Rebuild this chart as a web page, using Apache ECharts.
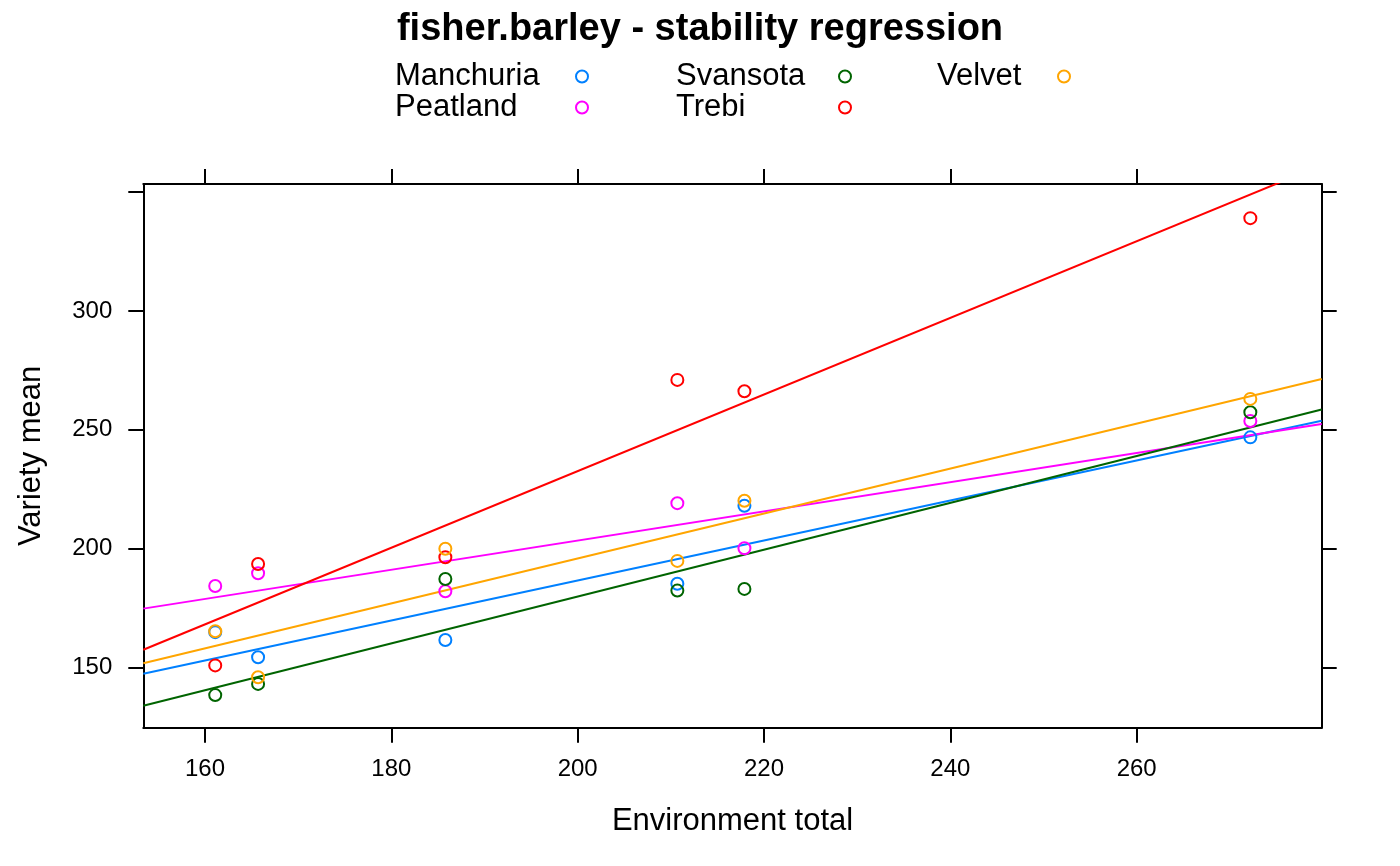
<!DOCTYPE html>
<html>
<head>
<meta charset="utf-8">
<title>fisher.barley - stability regression</title>
<script src="https://cdn.jsdelivr.net/npm/echarts@6/dist/echarts.min.js"></script>
<style>
  html, body { margin: 0; padding: 0; background: #fff; }
  #chart { width: 1400px; height: 866px; }
</style>
</head>
<body>
<div id="chart"></div>
<script>
var chart = echarts.init(document.getElementById('chart'));

// environment totals (x) shared by every variety
var envTotals = [161.1, 165.7, 185.8, 210.7, 217.9, 272.2];

var varieties = ['Manchuria', 'Peatland', 'Svansota', 'Trebi', 'Velvet'];
var colors = ['#0080ff', '#ff00ff', '#006400', '#ff0000', '#ffa500'];

// variety means, one per environment
var manchuria = [164.8, 154.2, 161.5, 185.2, 218.0, 246.8];
var peatland  = [184.2, 189.6, 182.0, 219.1, 200.1, 253.7];
var svansota  = [138.3, 143.0, 187.2, 182.3, 183.0, 257.4];
var trebi     = [150.8, 193.5, 196.3, 271.0, 266.2, 339.1];
var velvet    = [165.2, 145.8, 199.9, 194.8, 220.1, 263.0];

// regression lines, read at the left and right edge of the panel
var fitX          = [153.38, 279.86];
var manchuriaFit  = [147.3, 253.8];
var peatlandFit   = [174.7, 252.4];
var svansotaFit   = [133.8, 258.5];
var trebiFit      = [157.4, 361.4];
var velvetFit     = [151.7, 271.4];

// axes
var xRange = [153.38, 279.86];
var yRange = [124.57, 353.47];
var xTicks = [160, 180, 200, 220, 240, 260];
var yTicks = [150, 200, 250, 300, 350];
var yTickLabels = [150, 200, 250, 300];

var means = [manchuria, peatland, svansota, trebi, velvet];
var fits = [manchuriaFit, peatlandFit, svansotaFit, trebiFit, velvetFit];

var font = "'Liberation Sans', Arial, sans-serif";

var pairs = function (xs, ys) {
    var res = [];
    for (var i = 0; i < xs.length; i++) {
        res.push([xs[i], ys[i]]);
    }
    return res;
};

var series = [];
varieties.forEach(function (name, i) {
    series.push({
        name: name,
        type: 'scatter',
        data: pairs(envTotals, means[i]),
        symbol: 'circle',
        symbolSize: 12,
        itemStyle: {
            color: 'rgba(0,0,0,0)',
            borderColor: colors[i],
            borderWidth: 2,
            opacity: 1
        },
        z: 3
    });
});
varieties.forEach(function (name, i) {
    series.push({
        name: name,
        type: 'line',
        data: pairs(fitX, fits[i]),
        showSymbol: false,
        symbol: 'none',
        clip: true,
        lineStyle: { color: colors[i], width: 2 },
        itemStyle: { color: colors[i] },
        z: 2
    });
});

// legend: text on the left, hollow circle on the right, 3 columns
var legendPos = [
    { left: 395, top: 61, w: 176 },
    { left: 395, top: 92, w: 176 },
    { left: 676, top: 61, w: 158 },
    { left: 676, top: 92, w: 158 },
    { left: 937, top: 61, w: 116 }
];
var legends = varieties.map(function (name, i) {
    return {
        left: legendPos[i].left,
        top: legendPos[i].top,
        padding: 0,
        align: 'right',
        itemWidth: 12,
        itemHeight: 12,
        selectedMode: false,
        data: [{
            name: name,
            icon: 'circle',
            itemStyle: { color: '#fff', borderColor: colors[i], borderWidth: 2 }
        }],
        formatter: function (n) { return '{n|' + n + '}'; },
        textStyle: {
            rich: {
                n: {
                    width: legendPos[i].w,
                    align: 'left',
                    fontSize: 31,
                    lineHeight: 31,
                    fontFamily: font,
                    color: '#000'
                }
            }
        }
    };
});

var axisLineStyle = { color: '#000', width: 2 };

var option = {
    animation: false,
    backgroundColor: '#fff',
    title: {
        text: 'fisher.barley - stability regression',
        left: 'center',
        top: 11,
        padding: 0,
        textStyle: {
            fontFamily: font,
            fontSize: 38,
            fontWeight: 'bold',
            color: '#000'
        }
    },
    legend: legends,
    grid: {
        left: 143.3,
        right: 78.3,
        top: 184,
        bottom: 138.3,
        containLabel: false,
        outerBoundsMode: 'none'
    },
    xAxis: [{
        type: 'value',
        position: 'bottom',
        min: xRange[0],
        max: xRange[1],
        name: 'Environment total',
        nameLocation: 'middle',
        nameGap: 78,
        nameTextStyle: { fontFamily: font, fontSize: 31, color: '#000' },
        axisLine: { show: true, onZero: false, lineStyle: axisLineStyle },
        axisTick: { show: true, length: 15, customValues: xTicks, lineStyle: axisLineStyle },
        axisLabel: { customValues: xTicks, margin: 30, fontFamily: font, fontSize: 24, color: '#000' },
        splitLine: { show: false }
    }, {
        type: 'value',
        position: 'top',
        min: xRange[0],
        max: xRange[1],
        axisLine: { show: true, onZero: false, lineStyle: axisLineStyle },
        axisTick: { show: true, length: 15, customValues: xTicks, lineStyle: axisLineStyle },
        axisLabel: { show: false },
        splitLine: { show: false }
    }],
    yAxis: [{
        type: 'value',
        position: 'left',
        min: yRange[0],
        max: yRange[1],
        name: 'Variety mean',
        nameLocation: 'middle',
        nameGap: 96,
        nameTextStyle: { fontFamily: font, fontSize: 31, color: '#000' },
        axisLine: { show: true, onZero: false, lineStyle: axisLineStyle },
        axisTick: { show: true, length: 15, customValues: yTicks, lineStyle: axisLineStyle },
        axisLabel: { customValues: yTickLabels, margin: 31, fontFamily: font, fontSize: 24, color: '#000' },
        splitLine: { show: false }
    }, {
        type: 'value',
        position: 'right',
        min: yRange[0],
        max: yRange[1],
        axisLine: { show: true, onZero: false, lineStyle: axisLineStyle },
        axisTick: { show: true, length: 15, customValues: yTicks, lineStyle: axisLineStyle },
        axisLabel: { show: false },
        splitLine: { show: false }
    }],
    series: series
};

chart.setOption(option);
</script>
</body>
</html>
